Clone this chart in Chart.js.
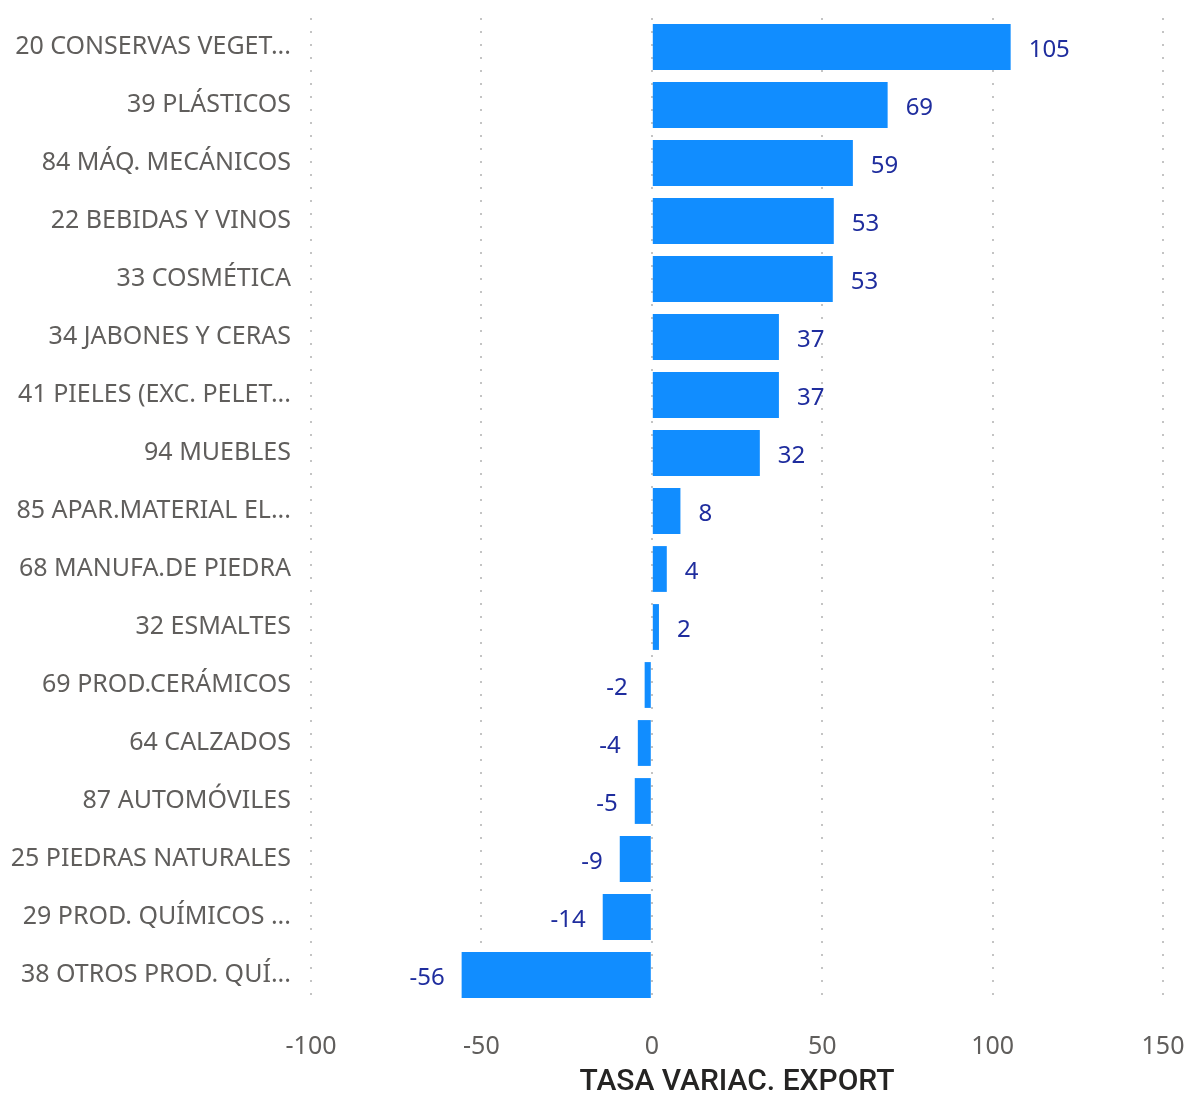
<!DOCTYPE html>
<html>
<head>
<meta charset="utf-8">
<script src="https://cdn.jsdelivr.net/npm/chart.js@4.4.1/dist/chart.umd.min.js"></script>
<style>
  html, body { margin: 0; padding: 0; background: #fff; }
  #wrap { width: 1190px; height: 1096px; }
</style>
</head>
<body>
<div id="wrap"><canvas id="chart"></canvas></div>
<script>
// Categories (top to bottom)
const categories = [
    '20 CONSERVAS VEGET...', '39 PLÁSTICOS', '84 MÁQ. MECÁNICOS', '22 BEBIDAS Y VINOS',
    '33 COSMÉTICA', '34 JABONES Y CERAS', '41 PIELES (EXC. PELET...', '94 MUEBLES',
    '85 APAR.MATERIAL EL...', '68 MANUFA.DE PIEDRA', '32 ESMALTES', '69 PROD.CERÁMICOS',
    '64 CALZADOS', '87 AUTOMÓVILES', '25 PIEDRAS NATURALES', '29 PROD. QUÍMICOS ...',
    '38 OTROS PROD. QUÍ...'
];

// Tasa de variación export (%)
const tasaVariac = [105.3, 69.2, 59.0, 53.4, 53.1, 37.3, 37.3, 31.7, 8.4, 4.4, 2.1, -2.1, -4.1, -5.0, -9.4, -14.4, -55.8];

// Axis
const xMin = -100;
const xMax = 150;
const xStep = 50;
const axisTitle = 'TASA VARIAC. EXPORT';

const labelColor = '#1f2d9e';
const textFont = "'Segoe UI', 'Noto Sans', 'Open Sans', sans-serif";

// Data labels next to bar ends
const valueLabels = {
    id: 'valueLabels',
    afterDatasetsDraw(chart) {
        const ctx = chart.ctx;
        const meta = chart.getDatasetMeta(0);
        ctx.save();
        ctx.font = '24px ' + textFont;
        ctx.fillStyle = labelColor;
        ctx.textBaseline = 'middle';
        meta.data.forEach((bar, i) => {
            const v = tasaVariac[i];
            const txt = String(Math.round(v));
            if (v >= 0) {
                ctx.textAlign = 'left';
                ctx.fillText(txt, bar.x + 18, bar.y + 3);
            } else {
                ctx.textAlign = 'right';
                ctx.fillText(txt, bar.x - 17, bar.y + 3);
            }
        });
        ctx.restore();
    }
};

new Chart(document.getElementById('chart'), {
    type: 'bar',
    data: {
        labels: categories,
        datasets: [{
            data: tasaVariac,
            backgroundColor: '#118dff',
            borderWidth: 0,
            barPercentage: 0.79,
            categoryPercentage: 1
        }]
    },
    options: {
        indexAxis: 'y',
        responsive: true,
        maintainAspectRatio: false,
        animation: false,
        layout: { padding: { top: 18, right: 27, bottom: 0, left: 0 } },
        plugins: {
            legend: { display: false },
            tooltip: { enabled: false }
        },
        scales: {
            x: {
                min: xMin,
                max: xMax,
                ticks: {
                    stepSize: xStep,
                    color: '#605e5c',
                    font: { family: textFont, size: 25 },
                    padding: 28
                },
                grid: {
                    color: '#c4c4c4',
                    lineWidth: 2,
                    drawTicks: false
                },
                border: { display: false, dash: [2, 11] },
                title: {
                    display: true,
                    text: axisTitle,
                    color: '#252423',
                    font: { family: "'Roboto', sans-serif", size: 30, weight: 500, lineHeight: 0.9 },
                    padding: { top: 4, bottom: 0 }
                },
                afterFit(scale) {
                    scale.height = 92;
                    scale.paddingLeft = 0;
                    scale.paddingRight = 0;
                }
            },
            y: {
                ticks: {
                    color: '#605e5c',
                    font: { family: textFont, size: 25 },
                    padding: 12
                },
                grid: { display: false },
                border: { display: false },
                afterFit(scale) {
                    scale.width = 311;
                    scale.paddingTop = 0;
                    scale.paddingBottom = 0;
                }
            }
        }
    },
    plugins: [valueLabels]
});
</script>
</body>
</html>
